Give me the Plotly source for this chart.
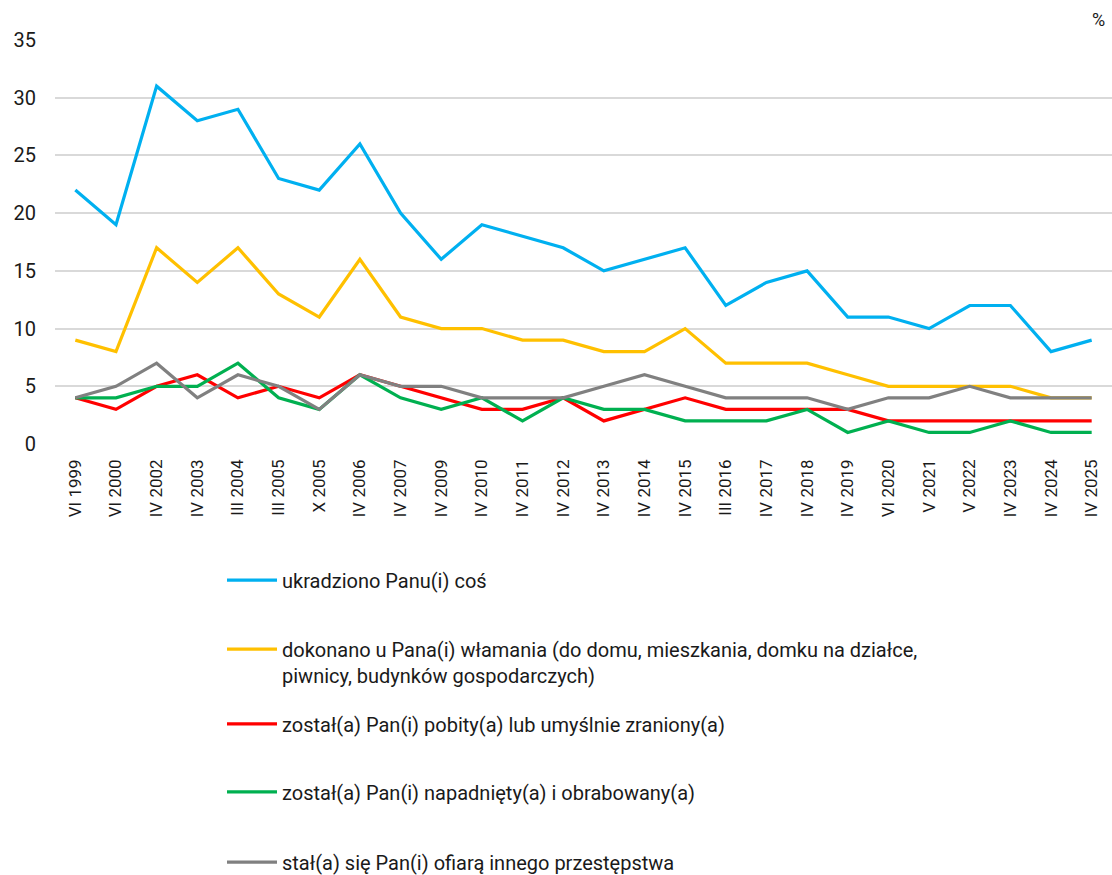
import plotly.graph_objects as go

# ------------------------------------------------------------------
# Data
# ------------------------------------------------------------------

categories = [
    "VI 1999", "VI 2000", "IV 2002", "IV 2003", "III 2004", "III 2005",
    "X 2005", "IV 2006", "IV 2007", "IV 2009", "IV 2010", "IV 2011",
    "IV 2012", "IV 2013", "IV 2014", "IV 2015", "III 2016", "IV 2017",
    "IV 2018", "IV 2019", "VI 2020", "V 2021", "V 2022", "IV 2023",
    "IV 2024", "IV 2025",
]

theft = [22, 19, 31, 28, 29, 23, 22, 26, 20, 16, 19, 18, 17, 15, 16, 17,
         12, 14, 15, 11, 11, 10, 12, 12, 8, 9]
burglary = [9, 8, 17, 14, 17, 13, 11, 16, 11, 10, 10, 9, 9, 8, 8, 10,
            7, 7, 7, 6, 5, 5, 5, 5, 4, 4]
assault = [4, 3, 5, 6, 4, 5, 4, 6, 5, 4, 3, 3, 4, 2, 3, 4,
           3, 3, 3, 3, 2, 2, 2, 2, 2, 2]
robbery = [4, 4, 5, 5, 7, 4, 3, 6, 4, 3, 4, 2, 4, 3, 3, 2,
           2, 2, 3, 1, 2, 1, 1, 2, 1, 1]
other = [4, 5, 7, 4, 6, 5, 3, 6, 5, 5, 4, 4, 4, 5, 6, 5,
         4, 4, 4, 3, 4, 4, 5, 4, 4, 4]

series = [
    ("ukradziono Panu(i) coś", theft, "#00B0F0"),
    ("dokonano u Pana(i) włamania (do domu, mieszkania, domku na działce,"
     "<br>piwnicy, budynków gospodarczych)", burglary, "#FFC000"),
    ("został(a) Pan(i) pobity(a) lub umyślnie zraniony(a)", assault, "#FF0000"),
    ("został(a) Pan(i) napadnięty(a) i obrabowany(a)", robbery, "#00B050"),
    ("stał(a) się Pan(i) ofiarą innego przestępstwa", other, "#808080"),
]

# ------------------------------------------------------------------
# Figure
# ------------------------------------------------------------------

FONT = "Roboto, Arial, sans-serif"
TEXT = "#1a1a1a"

# one legend per series so each entry sits on its own fixed slot
legend_names = ["legend", "legend2", "legend3", "legend4", "legend5"]
legend_y = [-0.337, -0.540, -0.693, -0.861, -1.035]

fig = go.Figure()
for (name, values, color), lg in zip(series, legend_names):
    fig.add_trace(
        go.Scatter(
            x=categories,
            y=values,
            name=name,
            mode="lines",
            line=dict(color=color, width=3.2),
            legend=lg,
        )
    )

legend_style = dict(
    x=0.158,
    xanchor="left",
    yanchor="middle",
    valign="top",
    bgcolor="rgba(0,0,0,0)",
    font=dict(family=FONT, size=20, color=TEXT),
    itemwidth=50,
)
layout_legends = {
    lg: dict(legend_style, y=y) for lg, y in zip(legend_names, legend_y)
}

fig.update_layout(
    width=1112,
    height=875,
    template="plotly_white",
    plot_bgcolor="white",
    paper_bgcolor="white",
    font=dict(family=FONT, color=TEXT),
    # keep the plot area fixed; legends live in the bottom margin
    margin=dict(l=55, r=0, t=40, b=431, autoexpand=False),
    showlegend=True,
    xaxis=dict(
        type="category",
        range=[-0.5, len(categories) - 0.5],
        tickangle=-90,
        showgrid=False,
        showline=False,
        zeroline=False,
        ticks="",
        automargin=False,
        ticklabelstandoff=11,
        tickfont=dict(family=FONT, size=17, color=TEXT),
    ),
    yaxis=dict(
        range=[0, 35],
        dtick=5,
        showgrid=True,
        gridcolor="#d9d9d9",
        gridwidth=1.5,
        zeroline=False,
        showline=False,
        ticks="",
        automargin=False,
        ticklabelstandoff=18,
        tickfont=dict(family=FONT, size=20, color=TEXT),
    ),
    **layout_legends,
)

fig.add_annotation(
    text="%",
    xref="paper", yref="paper",
    x=1.0, y=1.0,
    xanchor="right", yanchor="bottom",
    xshift=-5, yshift=8,
    showarrow=False,
    font=dict(family=FONT, size=18, color=TEXT),
)

# drop the browser's default body margin so the figure fills the window
fig.write_html(
    "out.html",
    config={"displayModeBar": False},
    post_script="document.body.style.margin = '0';",
)
